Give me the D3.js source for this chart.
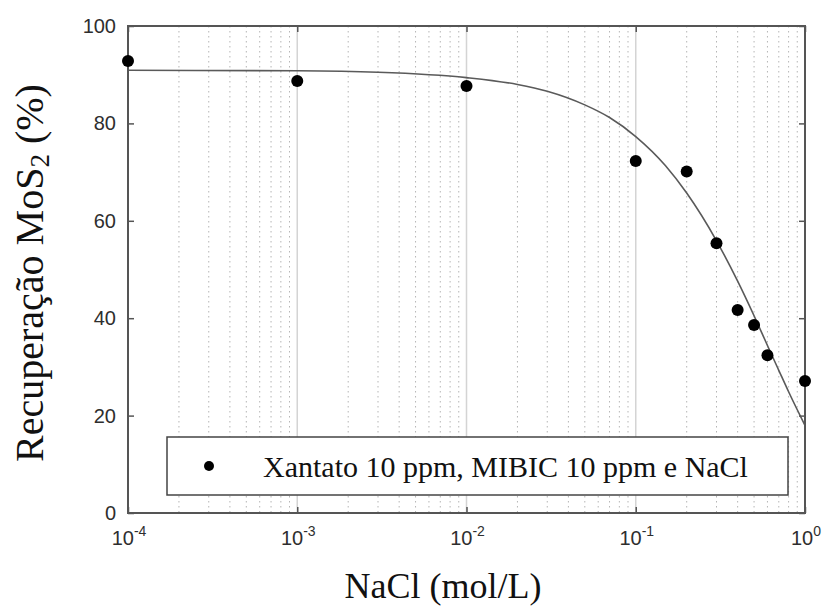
<!DOCTYPE html>
<html>
<head>
<meta charset="utf-8">
<script src="https://cdn.jsdelivr.net/npm/d3@7"></script>
<style>
  html, body { margin: 0; padding: 0; background: #fff; }
  svg { display: block; }
</style>
</head>
<body>
<svg id="chart" width="823" height="608"></svg>
<script>
// ---- data ----
const naclConc = [1e-4, 1e-3, 1e-2, 0.1, 0.2, 0.3, 0.4, 0.5, 0.6, 1.0];
const recovery = [92.8, 88.7, 87.7, 72.3, 70.1, 55.4, 41.7, 38.6, 32.4, 27.1];

// fitted curve, values
const fitConc = [1e-4, 1e-3, 3e-3, 1e-2, 2e-2, 3e-2, 5e-2, 0.07, 0.1, 0.15, 0.2, 0.3, 0.4, 0.5, 0.6, 0.7, 0.8, 0.9, 1.0];
const fitRecovery = [90.9, 90.8, 90.5, 89.4, 88.0, 86.6, 83.8, 81.2, 77.3, 71.3, 65.7, 55.9, 47.6, 40.5, 34.4, 29.3, 24.9, 21.2, 18.0];

const yTicks = [0, 20, 40, 60, 80, 100];
const xTickExps = ["-4", "-3", "-2", "-1", "0"];
const xTicks = [1e-4, 1e-3, 1e-2, 1e-1, 1];
const legendLabel = "Xantato 10 ppm, MIBIC 10 ppm e NaCl";

// ---- layout ----
const W = 823, H = 608;
const m = { left: 128, top: 26, right: 18, bottom: 95 };
const pw = W - m.left - m.right, ph = H - m.top - m.bottom;

const svg = d3.select("#chart");
const g = svg.append("g").attr("transform", `translate(${m.left},${m.top})`);

const x = d3.scaleLog().domain([1e-4, 1]).range([0, pw]);
const y = d3.scaleLinear().domain([0, 100]).range([ph, 0]);

// minor grid (dotted)
const minor = [];
for (let e = -4; e < 0; e++) for (let k = 2; k <= 9; k++) minor.push(k * Math.pow(10, e));
g.append("g").selectAll("line").data(minor).join("line")
  .attr("x1", d => x(d)).attr("x2", d => x(d))
  .attr("y1", 0).attr("y2", ph)
  .attr("stroke", "#b5b5b5").attr("stroke-width", 1)
  .attr("stroke-dasharray", "1.5,3.5");

// major grid
g.append("g").selectAll("line").data(xTicks.slice(1, -1)).join("line")
  .attr("x1", d => x(d)).attr("x2", d => x(d))
  .attr("y1", 0).attr("y2", ph)
  .attr("stroke", "#d4d4d4").attr("stroke-width", 1.5);

// fitted curve
const line = d3.line()
  .x((d, i) => x(fitConc[i]))
  .y(d => y(d))
  .curve(d3.curveMonotoneX);
g.append("path").datum(fitRecovery)
  .attr("d", line)
  .attr("fill", "none")
  .attr("stroke", "#5a5a5a")
  .attr("stroke-width", 1.6);

// axes (inward ticks)
const axisColor = "#555";
const yLeft = d3.axisLeft(y).tickValues(yTicks).tickSize(-6).tickPadding(12).tickFormat(d3.format("d"));
const yRight = d3.axisRight(y).tickValues(yTicks).tickSize(-6).tickFormat("");
const xBottom = d3.axisBottom(x).tickValues(xTicks).tickSize(-6).tickFormat("");
const xTop = d3.axisTop(x).tickValues(xTicks).tickSize(-6).tickFormat("");

function styleAxis(sel) {
  sel.select(".domain").remove();
  sel.selectAll(".tick line").attr("stroke", axisColor).attr("stroke-width", 1.5);
  sel.selectAll("text").attr("fill", "#2e2e2e")
    .style("font-family", "'Liberation Sans', Arial, sans-serif")
    .style("font-size", "20px");
}
g.append("g").call(yLeft).call(styleAxis);
g.append("g").attr("transform", `translate(${pw},0)`).call(yRight).call(styleAxis);
g.append("g").attr("transform", `translate(0,${ph})`).call(xBottom).call(styleAxis);
g.append("g").call(xTop).call(styleAxis);

// x tick labels with superscripts
const xl = g.append("g").selectAll("text").data(xTicks).join("text")
  .attr("x", d => x(d) + 1)
  .attr("y", ph + 32)
  .attr("text-anchor", "middle")
  .attr("fill", "#2e2e2e")
  .style("font-family", "'Liberation Sans', Arial, sans-serif")
  .style("font-size", "20px");
xl.append("tspan").text("10");
xl.append("tspan").attr("dy", -9).style("font-size", "14px").text((d, i) => xTickExps[i]);

// frame
g.append("rect").attr("x", 0).attr("y", 0).attr("width", pw).attr("height", ph)
  .attr("fill", "none").attr("stroke", axisColor).attr("stroke-width", 2);

// points
g.append("g").selectAll("circle").data(recovery).join("circle")
  .attr("cx", (d, i) => x(naclConc[i]))
  .attr("cy", d => y(d))
  .attr("r", 6)
  .attr("fill", "#000");

// legend
const lg = svg.append("g");
lg.append("rect").attr("x", 167).attr("y", 437).attr("width", 621).attr("height", 58)
  .attr("fill", "#fff").attr("stroke", "#444").attr("stroke-width", 1.5);
lg.append("circle").attr("cx", 209).attr("cy", 466).attr("r", 5).attr("fill", "#000");
lg.append("text").attr("x", 263).attr("y", 477)
  .style("font-family", "'Liberation Serif', 'Times New Roman', serif")
  .style("font-size", "30px")
  .attr("fill", "#111")
  .text(legendLabel);

// axis titles
svg.append("text")
  .attr("x", 443).attr("y", 598)
  .attr("text-anchor", "middle")
  .style("font-family", "'Liberation Serif', 'Times New Roman', serif")
  .style("font-size", "36px")
  .attr("fill", "#111")
  .text("NaCl (mol/L)");

const yt = svg.append("text")
  .attr("transform", "translate(43,273) rotate(-90)")
  .attr("text-anchor", "middle")
  .style("font-family", "'Liberation Serif', 'Times New Roman', serif")
  .style("font-size", "40px")
  .attr("fill", "#111");
yt.append("tspan").text("Recuperação MoS");
yt.append("tspan").attr("dy", 6).style("font-size", "27px").text("2");
yt.append("tspan").attr("dy", -6).text(" (%)");
</script>
</body>
</html>
